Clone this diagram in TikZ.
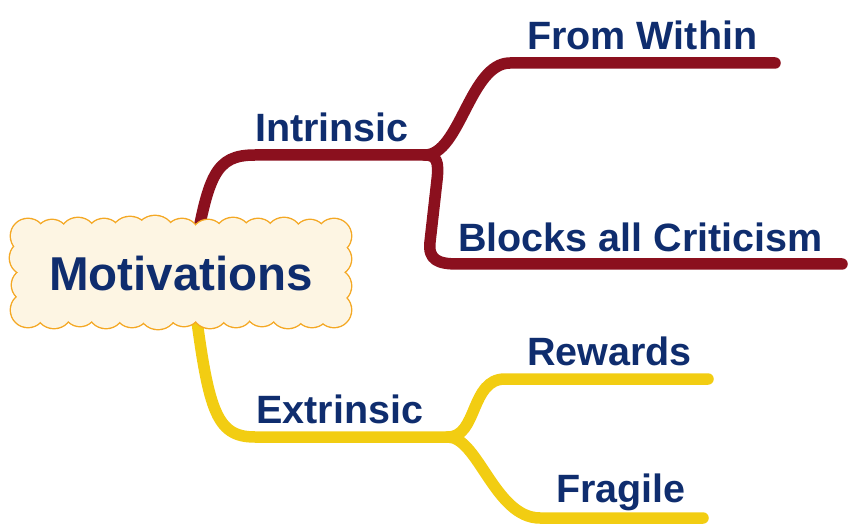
\documentclass[tikz,border=0pt]{standalone}
\usepackage{fontspec}
\setmainfont{Liberation Sans}
\definecolor{branchred}{HTML}{8B101E}
\definecolor{branchyellow}{HTML}{F2CD12}
\definecolor{labelblue}{HTML}{0F2D6E}
\definecolor{cloudfill}{HTML}{FDF5E3}
\definecolor{cloudline}{HTML}{F4A824}
\begin{document}
\begin{tikzpicture}[x=1pt,y=-1pt,
  branch/.style={line width=11.5pt,line cap=round,line join=round},
  redbranch/.style={branch,draw=branchred},
  yellowbranch/.style={branch,draw=branchyellow},
  label/.style={font=\bfseries\fontsize{39.5}{40}\selectfont,text=labelblue,
                anchor=base west,inner sep=0pt},
  rootlabel/.style={font=\bfseries\fontsize{47.5}{48}\selectfont,text=labelblue,
                anchor=base west,inner sep=0pt},
  puffline/.style={draw=cloudline,line width=2.8pt},
  pufffill/.style={fill=cloudfill}]
\useasboundingbox (0,0) rectangle (848,526);

% branch points
\coordinate (rI) at (193,262);
\coordinate (rE) at (193,290);
\coordinate (kI) at (255,155);
\coordinate (kE) at (255,437);
\coordinate (jI) at (425,155);
\coordinate (jE) at (448,437);
\coordinate (fwS) at (510,63);
\coordinate (eFW) at (775,63);
\coordinate (b1) at (437,180);
\coordinate (b2) at (430,242);
\coordinate (bcS) at (458,264);
\coordinate (eBC) at (842,264);
\coordinate (rwS) at (505,379);
\coordinate (eRW) at (708,379);
\coordinate (frS) at (540,518);
\coordinate (eFR) at (703,518);

% intrinsic branch
\draw[redbranch] (rI) .. controls +(15,-87) and +(-40,0) .. (kI) -- (jI);
\draw[redbranch] (jI) .. controls +(35,0) and +(-40,0) .. (fwS) -- (eFW);
\draw[redbranch] (jI) .. controls +(12,0) and +(2,-18) .. (b1) -- (b2)
  .. controls +(-2,18) and +(-20,0) .. (bcS) -- (eBC);

% extrinsic branch
\draw[yellowbranch] (rE) .. controls +(15,120) and +(-40,0) .. (kE) -- (jE);
\draw[yellowbranch] (jE) .. controls +(30,0) and +(-35,0) .. (rwS) -- (eRW);
\draw[yellowbranch] (jE) .. controls +(30,0) and +(-45,0) .. (frS) -- (eFR);

% scalloped cloud behind the central topic: puffs as (x,y,radius)
\def\puffs{
  28/236/17, 52/236/16, 78/236/18, 104/236/17, 130/236/19, 155/236/20,
  182/236/17, 208/236/16, 233/236/18, 258/236/17, 284/236/18, 310/236/16,
  334/236/17,
  28/310/17, 54/310/18, 80/310/16, 106/310/18, 132/310/17, 158/310/19,
  184/310/16, 210/310/18, 236/310/17, 262/310/16, 288/310/18, 312/310/17,
  334/310/17,
  27/258/17, 28/285/16, 335/259/16, 334/286/17}
\foreach \px/\py/\pr in \puffs { \path[puffline] (\px,\py) circle (\pr); }
\foreach \px/\py/\pr in \puffs { \path[pufffill] (\px,\py) circle (\pr); }
\fill[cloudfill] (28,236) rectangle (334,310);

% labels
\node[rootlabel] (root) at (49,291) {Motivations};
\node[label] (intr) at (255,142) {Intrinsic};
\node[label] (extr) at (256,423) {Extrinsic};
\node[label] (within) at (527,50) {From Within};
\node[label] (blocks) at (458,252) {Blocks all Criticism};
\node[label] (rewards) at (527,365) {Rewards};
\node[label] (fragile) at (556,502) {Fragile};
\end{tikzpicture}
\end{document}
